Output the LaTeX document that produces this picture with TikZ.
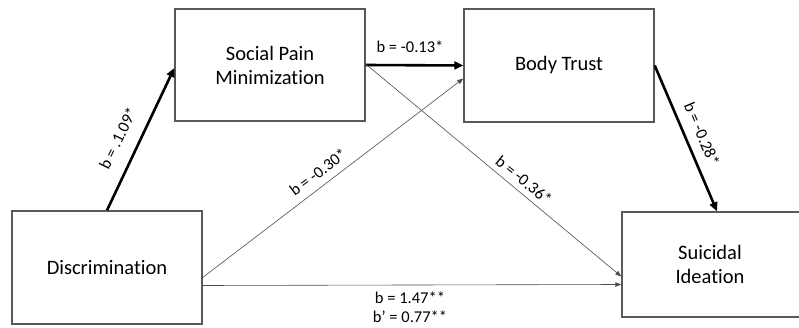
\documentclass[tikz,border=0pt]{standalone}
\usepackage{fontspec}
\setmainfont{Carlito}[Ligatures={NoCommon,NoRare,NoContextual}]
\usetikzlibrary{arrows.meta}
\begin{document}
\begin{tikzpicture}[x=1pt,y=-1pt,
  box/.style={draw=black!65,line width=1.4pt,fill=white,minimum width=190pt,minimum height=113pt,inner sep=0pt,align=center,font=\fontsize{20.5}{24}\selectfont},
  thickarr/.style={line width=2.6pt,-{Triangle[length=9pt,width=8pt]}},
  thinarr/.style={draw=black!70,line width=0.6pt,-{Triangle[length=6pt,width=4.5pt]}},
  lab/.style={font=\fontsize{16.5}{20}\selectfont,inner sep=0pt}]
\useasboundingbox (0,0) rectangle (799,328);
\node[box] (disc) at (107,267.5) {Discrimination};
\node[box,minimum height=112pt] (spm) at (270,65) {Social Pain\\Minimization};
\node[box] (bt) at (559,65.5) {Body Trust};
\node[box,minimum height=105pt] (si) at (717,264.5) {};
\node[font=\fontsize{20.5}{24}\selectfont,align=center] (sit) at (710,264) {Suicidal\\Ideation};
\draw[thickarr] (disc.north) -- ([yshift=-3pt]spm.west);
\draw[thickarr] (spm.east) -- (bt.west);
\draw[thickarr] (bt.east) -- ([xshift=0pt]si.north);
\draw[thinarr] ([yshift=-10pt]disc.east) -- ([yshift=-13pt]bt.west);
\draw[thinarr] ([yshift=1pt]spm.east) -- ([yshift=-12pt]si.west);
\draw[thinarr] ([yshift=-18pt]disc.east) -- ([yshift=-20pt]si.west);
\node[lab,rotate=64] (l1) at (118,138) {b = .1.09*};
\node[lab] (l2) at (410,47) {b = -0.13*};
\node[lab,rotate=37] (l3) at (318,172) {b = -0.30*};
\node[lab,rotate=-39] (l4) at (524,180) {b = -0.36*};
\node[lab,rotate=-67] (l5) at (702,134) {b = -0.28*};
\node[lab] (l6) at (410,298) {b = 1.47**};
\node[lab] (l7) at (410,317) {b’ = 0.77**};
\end{tikzpicture}
\end{document}
